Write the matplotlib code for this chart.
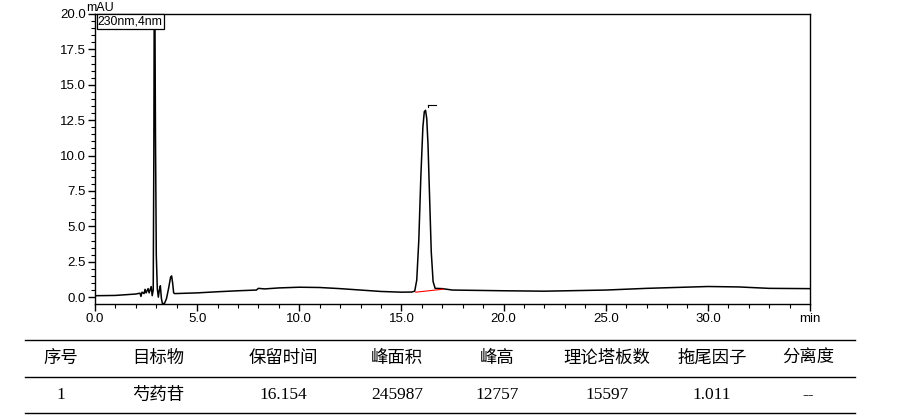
import numpy as np
import matplotlib
matplotlib.use("Agg")
import matplotlib.pyplot as plt
from matplotlib.ticker import MultipleLocator, FixedLocator

plt.rcParams['font.family'] = ['Liberation Sans', 'DejaVu Sans']

# chromatogram trace (min, mAU)
t = [0.0, 1.0, 2.0, 2.2, 2.25, 2.3, 2.4, 2.45, 2.5, 2.6, 2.65, 2.75, 2.8, 2.85,
     2.88, 2.9, 2.93, 2.96, 3.0, 3.05, 3.1, 3.15, 3.2, 3.25, 3.3, 3.4, 3.5,
     3.6, 3.7, 3.75, 3.8, 3.85, 3.9, 5.0, 6.0, 7.0, 7.9, 8.0, 8.3, 9.0, 10.0,
     11.0, 12.0, 13.0, 14.0, 15.0, 15.5, 15.65, 15.75, 15.85, 15.95, 16.05, 16.12, 16.18,
     16.24, 16.3, 16.38, 16.46, 16.55, 16.65, 17.0, 17.5, 20.0, 22.0, 25.0, 27.0,
     30.0, 31.5, 33.0, 35.0]
mau = [0.10, 0.12, 0.22, 0.28, 0.05, 0.35, 0.25, 0.55, 0.30, 0.60, 0.30, 0.75, 0.10, 0.50,
       10.0, 21.0, 21.0, 11.5, 3.0, 0.6, 0.0, 0.5, 0.8, -0.1, -0.45, -0.45, -0.1,
       0.6, 1.4, 1.5, 1.0, 0.3, 0.25, 0.30, 0.38, 0.45, 0.50, 0.62, 0.58, 0.65, 0.70,
       0.68, 0.60, 0.50, 0.40, 0.35, 0.36, 0.42, 1.2, 4.0, 8.5, 12.0, 13.1, 13.2,
       12.6, 10.8, 7.0, 3.2, 1.1, 0.62, 0.60, 0.50, 0.45, 0.42, 0.50, 0.62,
       0.75, 0.72, 0.62, 0.60]

# integration baseline of the main peak
base_t = [15.7, 17.05]
base_y = [0.35, 0.56]
peak_rt = 16.154
peak_top = 13.2

headers = ["序号", "目标物", "保留时间", "峰面积", "峰高", "理论塔板数", "拖尾因子", "分离度"]
row = ["1", "芍药苷", "16.154", "245987", "12757", "15597", "1.011", "--"]
col_x = [61, 158, 283, 397, 497, 607, 712, 808]

fig = plt.figure(figsize=(9, 4.15), dpi=100)
ax = fig.add_axes([95/900, 1-303.5/415, 715/900, 289.5/415])

ax.plot(t, mau, color='black', lw=1.1)
ax.plot(base_t, base_y, color='red', lw=0.8)
ax.plot([peak_rt + 0.15, peak_rt + 0.55], [peak_top + 0.35, peak_top + 0.35], color='black', lw=0.8)
ax.plot([peak_rt + 0.15, peak_rt + 0.15], [peak_top + 0.35, peak_top + 0.2], color='black', lw=0.8)

ax.set_xlim(0, 35)
ax.set_ylim(-0.45, 20)
ax.xaxis.set_major_locator(FixedLocator([0, 5, 10, 15, 20, 25, 30, 35]))
ax.set_xticklabels(["0.0", "5.0", "10.0", "15.0", "20.0", "25.0", "30.0", "min"])
ax.xaxis.set_minor_locator(MultipleLocator(1))
ax.yaxis.set_major_locator(FixedLocator(np.arange(0, 20.1, 2.5)))
ax.set_yticklabels(["%.1f" % v for v in np.arange(0, 20.1, 2.5)])
ax.yaxis.set_minor_locator(MultipleLocator(0.5))
ax.tick_params(which='major', length=5, width=1, labelsize=9.5, direction='out', pad=1.5)
ax.tick_params(which='minor', length=3, width=0.8, direction='out')
for s in ax.spines.values():
    s.set_linewidth(1.0)

ax.text(-0.012, 1.0, "mAU", transform=ax.transAxes, ha='left', va='bottom', fontsize=9)
ax.text(0.004, 0.995, "230nm,4nm", transform=ax.transAxes, ha='left', va='top', fontsize=8.8,
        bbox=dict(boxstyle='square,pad=0.1', fc='white', ec='black', lw=0.9))

# table below the chromatogram
tb = fig.add_axes([0, 0, 1, 1])
tb.set_xlim(0, 900)
tb.set_ylim(415, 0)
tb.axis('off')
for yy in [339.5, 376.5, 413]:
    tb.plot([25, 855], [yy, yy], color='black', lw=1.0)
for i in range(len(headers)):
    tb.text(col_x[i], 358, headers[i], ha='center', va='center', fontsize=12.5,
            family=['Noto Sans CJK SC', 'DejaVu Sans'])
    fam = ['Noto Sans CJK SC'] if i == 1 else ['Liberation Serif', 'DejaVu Serif']
    tb.text(col_x[i], 395, row[i], ha='center', va='center', fontsize=12.5, family=fam)

fig.savefig("out.png", dpi=100)
